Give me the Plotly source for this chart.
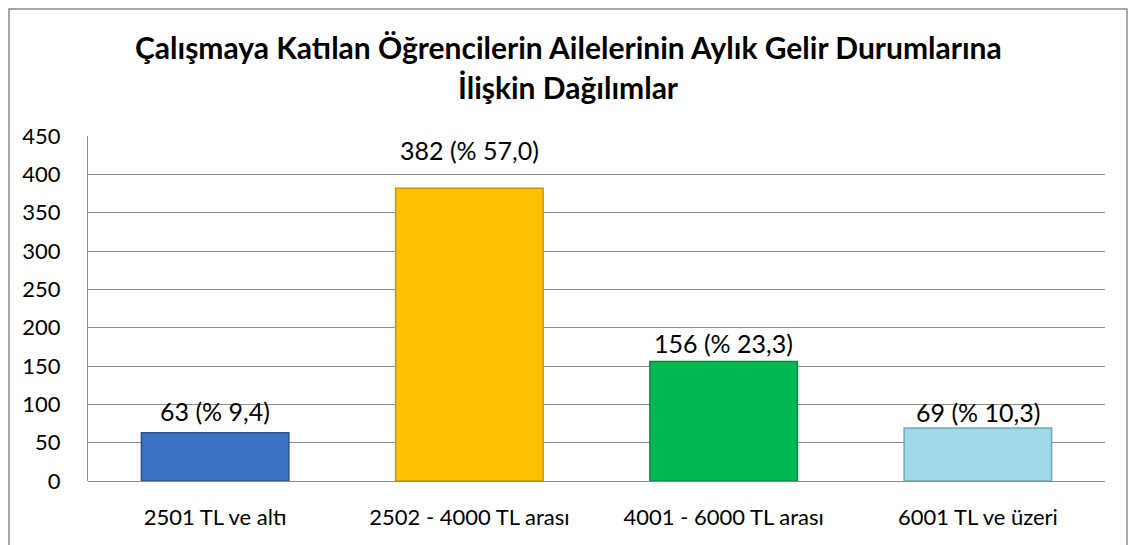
import plotly.graph_objs as go

# Aylık gelir grupları ve öğrenci sayıları
categories = ['2501 TL ve altı', '2502 - 4000 TL arası', '4001 - 6000 TL arası', '6001 TL ve üzeri']
counts = [63, 382, 156, 69]
percents = ['9,4', '57,0', '23,3', '10,3']
y_ticks = [0, 50, 100, 150, 200, 250, 300, 350, 400, 450]

bar_colors = ['#3c72c0', '#ffc000', '#05b952', '#9fd9e9']
edge_colors = ['#2a5490', '#c99700', '#038a3c', '#6fa9ba']
# how far (px) each value label sits above its bar
label_lift = [22, 38, 18, 16]

labels = ['{} (% {})'.format(c, p) for c, p in zip(counts, percents)]

font_name = 'Lato'

trace = go.Bar(x=categories,
               y=counts,
               marker=dict(color=bar_colors,
                           line=dict(color=edge_colors, width=1.5)),
               width=0.58,
               hoverinfo='x+y')

annotations = []
for cat, val, lab, lift in zip(categories, counts, labels, label_lift):
    annotations.append(dict(text=lab, x=cat, y=val, xref='x', yref='y',
                            yshift=lift, yanchor='middle', showarrow=False,
                            font=dict(family=font_name, size=25, color='black')))

annotations += [
    dict(text='<b>Çalışmaya Katılan Öğrencilerin Ailelerinin Aylık Gelir Durumlarına</b>',
         xref='paper', yref='paper', x=0.472, y=1.374 - 40 / 345,
         xanchor='center', yanchor='middle', showarrow=False,
         font=dict(family=font_name, size=30, color='black')),
    dict(text='<b>İlişkin Dağılımlar</b>',
         xref='paper', yref='paper', x=0.472, y=1.374 - 80 / 345,
         xanchor='center', yanchor='middle', showarrow=False,
         font=dict(family=font_name, size=30, color='black')),
]

# page body has an 8px margin, so the figure is shrunk by that amount
layout = go.Layout(
    width=1128,
    height=537,
    paper_bgcolor='white',
    plot_bgcolor='white',
    margin=dict(l=80, r=31, t=128, b=64),
    showlegend=False,
    font=dict(family=font_name, size=22, color='black'),
    xaxis=dict(
        showgrid=False,
        ticks='',
        showline=False,
        tickfont=dict(size=22),
        ticklabelstandoff=21
    ),
    yaxis=dict(
        range=[0, 450],
        tickvals=y_ticks,
        showgrid=True,
        gridcolor='#8c8c8c',
        gridwidth=1,
        zeroline=True,
        zerolinecolor='#8c8c8c',
        zerolinewidth=1,
        showline=True,
        linecolor='#8c8c8c',
        linewidth=1,
        ticks='',
        ticklabelstandoff=22,
        tickfont=dict(size=22)
    ),
    annotations=annotations,
    shapes=[
        dict(type='rect', xref='paper', yref='paper',
             x0=-0.0777, x1=1.0216, y0=-0.3, y1=1.368,
             line=dict(color='#8c8c8c', width=1.5), layer='below')
    ]
)

fig = go.Figure(data=[trace], layout=layout)
fig.write_html('out.html')
